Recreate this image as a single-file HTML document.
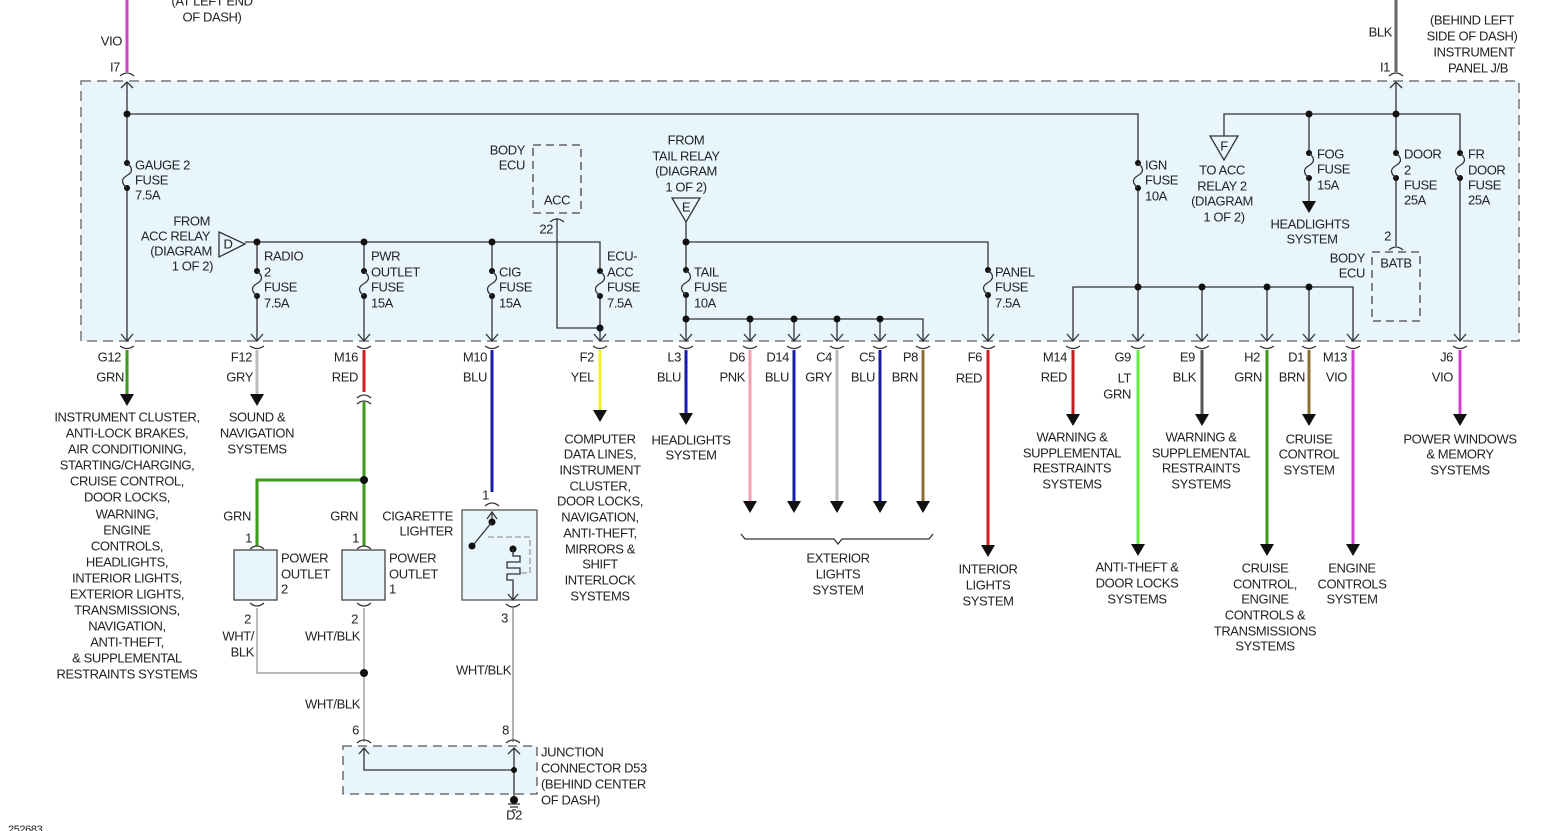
<!DOCTYPE html>
<html><head><meta charset="utf-8"><style>
html,body{margin:0;padding:0;background:#fff;}
svg{display:block;}
text{font-family:"Liberation Sans",sans-serif;font-size:13px;fill:#222;letter-spacing:-0.4px;dominant-baseline:central;}
.m{text-anchor:middle}.e{text-anchor:end}
.k{stroke:#333;stroke-width:1.3;fill:none}
.d{fill:#111}
</style></head><body>
<svg width="1554" height="831" viewBox="0 0 1554 831" xmlns="http://www.w3.org/2000/svg">
<!-- J/B box -->
<rect x="81" y="81" width="1438" height="260" fill="#e8f5fd" stroke="#777" stroke-width="1.5" stroke-dasharray="10,6"/>

<!-- top wires -->
<line x1="127" y1="0" x2="127" y2="72" stroke="#cc44cc" stroke-width="3"/>
<path class="k" d="M120 76 Q127 70 134 76"/>
<path class="k" d="M121 88 L127 82 L133 88"/>
<text class="e" x="122" y="41">VIO</text>
<text class="e" x="120" y="67">I7</text>
<text class="m" x="212" y="1">(AT LEFT END</text>
<text class="m" x="212" y="17">OF DASH)</text>

<line x1="1396" y1="0" x2="1396" y2="72" stroke="#666" stroke-width="3"/>
<path class="k" d="M1389 76 Q1396 70 1403 76"/>
<path class="k" d="M1390 88 L1396 82 L1402 88"/>
<text class="e" x="1392" y="32">BLK</text>
<text class="e" x="1390" y="67">I1</text>
<text class="m" x="1472" y="20">(BEHIND LEFT</text>
<text class="m" x="1472" y="36">SIDE OF DASH)</text>
<text class="m" x="1474" y="52">INSTRUMENT</text>
<text class="m" x="1478" y="68">PANEL J/B</text>

<!-- top bus -->
<path class="k" d="M127 82 V163 M127 188 V341 M127 114 H1138 V163 M1138 188 V341"/>
<circle class="d" cx="127" cy="114" r="3.5"/>
<!-- gauge fuse -->
<circle class="d" cx="127" cy="163" r="3"/><circle class="d" cx="127" cy="188" r="3"/>
<path class="k" d="M127 163 C133 168 133 172 127 175.5 C121 179 121 183 127 188"/>
<text x="135" y="165">GAUGE 2</text><text x="135" y="180">FUSE</text><text x="135" y="195">7.5A</text>

<!-- D bus -->
<path d="M219 232 L245 244 L219 257 Z" fill="none" stroke="#333" stroke-width="1.3"/>
<text class="m" x="228" y="244">D</text>
<text class="e" x="210" y="221">FROM</text><text class="e" x="210" y="236">ACC RELAY</text>
<text class="e" x="212" y="251">(DIAGRAM</text><text class="e" x="213" y="266">1 OF 2)</text>
<path class="k" d="M245 242 H600 V271 M600 296 V341 M257 242 V271 M257 296 V341 M364 242 V271 M364 296 V341 M492 242 V271 M492 296 V341"/>
<circle class="d" cx="257" cy="242" r="3.5"/><circle class="d" cx="364" cy="242" r="3.5"/><circle class="d" cx="492" cy="242" r="3.5"/>
<g>
<circle class="d" cx="257" cy="271" r="3"/><circle class="d" cx="257" cy="296" r="3"/>
<path class="k" d="M257 271 C263 276 263 280 257 283.5 C251 287 251 291 257 296"/>
<circle class="d" cx="364" cy="271" r="3"/><circle class="d" cx="364" cy="296" r="3"/>
<path class="k" d="M364 271 C370 276 370 280 364 283.5 C358 287 358 291 364 296"/>
<circle class="d" cx="492" cy="271" r="3"/><circle class="d" cx="492" cy="296" r="3"/>
<path class="k" d="M492 271 C498 276 498 280 492 283.5 C486 287 486 291 492 296"/>
<circle class="d" cx="600" cy="271" r="3"/><circle class="d" cx="600" cy="296" r="3"/>
<path class="k" d="M600 271 C606 276 606 280 600 283.5 C594 287 594 291 600 296"/>
</g>
<text x="264" y="256">RADIO</text><text x="264" y="272">2</text><text x="264" y="287">FUSE</text><text x="264" y="303">7.5A</text>
<text x="371" y="256">PWR</text><text x="371" y="272">OUTLET</text><text x="371" y="287">FUSE</text><text x="371" y="303">15A</text>
<text x="499" y="272">CIG</text><text x="499" y="287">FUSE</text><text x="499" y="303">15A</text>
<text x="607" y="256">ECU-</text><text x="607" y="272">ACC</text><text x="607" y="287">FUSE</text><text x="607" y="303">7.5A</text>

<!-- Body ECU ACC -->
<rect x="533" y="145" width="48" height="68" fill="#e8f5fd" stroke="#444" stroke-width="1.3" stroke-dasharray="8,5"/>
<text class="e" x="525" y="150">BODY</text><text class="e" x="525" y="165">ECU</text>
<text class="m" x="557" y="200">ACC</text>
<path class="k" d="M550 222 Q557 216 564 222"/>
<text class="e" x="553" y="229">22</text>
<path class="k" d="M557 218 V328 H600"/>
<circle class="d" cx="600" cy="328" r="3.5"/>

<!-- Tail relay -->
<text class="m" x="686" y="140">FROM</text><text class="m" x="686" y="156">TAIL RELAY</text>
<text class="m" x="686" y="171">(DIAGRAM</text><text class="m" x="686" y="187">1 OF 2)</text>
<path d="M672 198 L700 198 L686 222 Z" fill="none" stroke="#333" stroke-width="1.3"/>
<text class="m" x="686" y="207">E</text>
<path class="k" d="M686 222 V270 M686 295 V341 M686 242 H988 V270 M988 295 V341 M686 319 H923 V341 M750 319 V341 M794 319 V341 M837 319 V341 M880 319 V341"/>
<circle class="d" cx="686" cy="242" r="3.5"/><circle class="d" cx="686" cy="319" r="3.5"/>
<circle class="d" cx="750" cy="319" r="3.5"/><circle class="d" cx="794" cy="319" r="3.5"/><circle class="d" cx="837" cy="319" r="3.5"/><circle class="d" cx="880" cy="319" r="3.5"/>
<circle class="d" cx="686" cy="270" r="3"/><circle class="d" cx="686" cy="295" r="3"/>
<path class="k" d="M686 270 C692 275 692 279 686 282.5 C680 286 680 290 686 295"/>
<circle class="d" cx="988" cy="270" r="3"/><circle class="d" cx="988" cy="295" r="3"/>
<path class="k" d="M988 270 C994 275 994 279 988 282.5 C982 286 982 290 988 295"/>
<text x="694" y="272">TAIL</text><text x="694" y="287">FUSE</text><text x="694" y="303">10A</text>
<text x="995" y="272">PANEL</text><text x="995" y="287">FUSE</text><text x="995" y="303">7.5A</text>

<!-- IGN -->
<circle class="d" cx="1138" cy="163" r="3"/><circle class="d" cx="1138" cy="188" r="3"/>
<path class="k" d="M1138 163 C1144 168 1144 172 1138 175.5 C1132 179 1132 183 1138 188"/>
<text x="1145" y="165">IGN</text><text x="1145" y="180">FUSE</text><text x="1145" y="196">10A</text>
<path class="k" d="M1073 341 V287 H1353 V341 M1202 287 V341 M1267 287 V341 M1309 287 V341"/>
<circle class="d" cx="1138" cy="287" r="3.5"/><circle class="d" cx="1202" cy="287" r="3.5"/><circle class="d" cx="1267" cy="287" r="3.5"/><circle class="d" cx="1309" cy="287" r="3.5"/>

<!-- right bus -->
<path class="k" d="M1224 136 V114 H1460 V153 M1460 178 V341 M1309 114 V153 M1309 178 V202 M1396 82 V153 M1396 178 V246"/>
<circle class="d" cx="1309" cy="114" r="3.5"/><circle class="d" cx="1396" cy="114" r="3.5"/>
<path d="M1210 136 L1238 136 L1224 160 Z" fill="none" stroke="#333" stroke-width="1.3"/>
<text class="m" x="1224" y="146">F</text>
<text class="m" x="1222" y="170">TO ACC</text><text class="m" x="1222" y="186">RELAY 2</text>
<text class="m" x="1222" y="201">(DIAGRAM</text><text class="m" x="1224" y="217">1 OF 2)</text>
<circle class="d" cx="1309" cy="153" r="3"/><circle class="d" cx="1309" cy="178" r="3"/>
<path class="k" d="M1309 153 C1315 158 1315 162 1309 165.5 C1303 169 1303 173 1309 178"/>
<path d="M1302 201 L1316 201 L1309 213 Z" fill="#111"/>
<text x="1317" y="154">FOG</text><text x="1317" y="169">FUSE</text><text x="1317" y="185">15A</text>
<text class="m" x="1310" y="224">HEADLIGHTS</text><text class="m" x="1312" y="239">SYSTEM</text>
<circle class="d" cx="1396" cy="153" r="3"/><circle class="d" cx="1396" cy="178" r="3"/>
<path class="k" d="M1396 153 C1402 158 1402 162 1396 165.5 C1390 169 1390 173 1396 178"/>
<text x="1404" y="154">DOOR</text><text x="1404" y="170">2</text><text x="1404" y="185">FUSE</text><text x="1404" y="200">25A</text>
<circle class="d" cx="1460" cy="153" r="3"/><circle class="d" cx="1460" cy="178" r="3"/>
<path class="k" d="M1460 153 C1466 158 1466 162 1460 165.5 C1454 169 1454 173 1460 178"/>
<text x="1468" y="154">FR</text><text x="1468" y="170">DOOR</text><text x="1468" y="185">FUSE</text><text x="1468" y="200">25A</text>
<path class="k" d="M1389 250 Q1396 244 1403 250"/>
<text class="e" x="1391" y="236">2</text>
<rect x="1372" y="252" width="48" height="69" fill="#e8f5fd" stroke="#444" stroke-width="1.3" stroke-dasharray="8,5"/>
<text class="m" x="1396" y="263">BATB</text>
<text class="e" x="1365" y="258">BODY</text><text class="e" x="1365" y="273">ECU</text>

<!-- bottom connectors: chevrons + cups -->
<g class="k">
<path d="M121 334 L127 341 L133 334 M120 346 Q127 351 134 346"/>
<path d="M251 334 L257 341 L263 334 M250 346 Q257 351 264 346"/>
<path d="M358 334 L364 341 L370 334 M357 346 Q364 351 371 346"/>
<path d="M486 334 L492 341 L498 334 M485 346 Q492 351 499 346"/>
<path d="M594 334 L600 341 L606 334 M593 346 Q600 351 607 346"/>
<path d="M680 334 L686 341 L692 334 M679 346 Q686 351 693 346"/>
<path d="M744 334 L750 341 L756 334 M743 346 Q750 351 757 346"/>
<path d="M788 334 L794 341 L800 334 M787 346 Q794 351 801 346"/>
<path d="M831 334 L837 341 L843 334 M830 346 Q837 351 844 346"/>
<path d="M874 334 L880 341 L886 334 M873 346 Q880 351 887 346"/>
<path d="M917 334 L923 341 L929 334 M916 346 Q923 351 930 346"/>
<path d="M982 334 L988 341 L994 334 M981 346 Q988 351 995 346"/>
<path d="M1067 334 L1073 341 L1079 334 M1066 346 Q1073 351 1080 346"/>
<path d="M1132 334 L1138 341 L1144 334 M1131 346 Q1138 351 1145 346"/>
<path d="M1196 334 L1202 341 L1208 334 M1195 346 Q1202 351 1209 346"/>
<path d="M1261 334 L1267 341 L1273 334 M1260 346 Q1267 351 1274 346"/>
<path d="M1303 334 L1309 341 L1315 334 M1302 346 Q1309 351 1316 346"/>
<path d="M1347 334 L1353 341 L1359 334 M1346 346 Q1353 351 1360 346"/>
<path d="M1454 334 L1460 341 L1466 334 M1453 346 Q1460 351 1467 346"/>
</g>

<!-- colored wires -->
<g stroke-width="3" fill="none">
<line x1="127" y1="350" x2="127" y2="396" stroke="#3a9a1a"/>
<line x1="257" y1="350" x2="257" y2="396" stroke="#bbb"/>
<line x1="364" y1="350" x2="364" y2="392" stroke="#d02020"/>
<line x1="364" y1="402" x2="364" y2="546" stroke="#3a9a1a"/>
<path d="M364 480 H257 V546" stroke="#3a9a1a"/>
<line x1="492" y1="350" x2="492" y2="492" stroke="#1a1aa8"/>
<line x1="600" y1="350" x2="600" y2="412" stroke="#f0f020"/>
<line x1="686" y1="350" x2="686" y2="414" stroke="#1a1aa8"/>
<line x1="750" y1="350" x2="750" y2="502" stroke="#f0a0b0"/>
<line x1="794" y1="350" x2="794" y2="502" stroke="#1a1aa8"/>
<line x1="837" y1="350" x2="837" y2="502" stroke="#bbb"/>
<line x1="880" y1="350" x2="880" y2="502" stroke="#1a1aa8"/>
<line x1="923" y1="350" x2="923" y2="502" stroke="#8a7030"/>
<line x1="988" y1="350" x2="988" y2="546" stroke="#d02020"/>
<line x1="1073" y1="350" x2="1073" y2="416" stroke="#c02020"/>
<line x1="1138" y1="350" x2="1138" y2="545" stroke="#66ee44"/>
<line x1="1202" y1="350" x2="1202" y2="416" stroke="#555"/>
<line x1="1267" y1="350" x2="1267" y2="545" stroke="#3a9a1a"/>
<line x1="1309" y1="350" x2="1309" y2="416" stroke="#8a7030"/>
<line x1="1353" y1="350" x2="1353" y2="545" stroke="#d040d0"/>
<line x1="1460" y1="350" x2="1460" y2="416" stroke="#d040d0"/>
</g>
<g fill="#111">
<path d="M120 394 L134 394 L127 406 Z"/><path d="M250 394 L264 394 L257 406 Z"/>
<path d="M593 410 L607 410 L600 422 Z"/><path d="M679 413 L693 413 L686 425 Z"/>
<path d="M743 501 L757 501 L750 513 Z"/><path d="M787 501 L801 501 L794 513 Z"/><path d="M830 501 L844 501 L837 513 Z"/><path d="M873 501 L887 501 L880 513 Z"/><path d="M916 501 L930 501 L923 513 Z"/>
<path d="M981 545 L995 545 L988 557 Z"/>
<path d="M1066 414 L1080 414 L1073 426 Z"/><path d="M1131 544 L1145 544 L1138 556 Z"/><path d="M1195 414 L1209 414 L1202 426 Z"/>
<path d="M1260 544 L1274 544 L1267 556 Z"/><path d="M1302 414 L1316 414 L1309 426 Z"/><path d="M1346 544 L1360 544 L1353 556 Z"/><path d="M1453 414 L1467 414 L1460 426 Z"/>
</g>
<!-- inline connector on M16 -->
<path class="k" d="M357 398 Q364 392 371 398 M357 404 Q364 398 371 404"/>
<circle class="d" cx="364" cy="480" r="4"/>

<!-- pin labels -->
<text class="e" x="121" y="357">G12</text><text class="e" x="124" y="377">GRN</text>
<text class="e" x="252" y="357">F12</text><text class="e" x="253" y="377">GRY</text>
<text class="e" x="358" y="357">M16</text><text class="e" x="358" y="377">RED</text>
<text class="e" x="487" y="357">M10</text><text class="e" x="487" y="377">BLU</text>
<text class="e" x="594" y="357">F2</text><text class="e" x="594" y="377">YEL</text>
<text class="e" x="681" y="357">L3</text><text class="e" x="681" y="377">BLU</text>
<text class="e" x="745" y="357">D6</text><text class="e" x="745" y="377">PNK</text>
<text class="e" x="789" y="357">D14</text><text class="e" x="789" y="377">BLU</text>
<text class="e" x="832" y="357">C4</text><text class="e" x="832" y="377">GRY</text>
<text class="e" x="875" y="357">C5</text><text class="e" x="875" y="377">BLU</text>
<text class="e" x="918" y="357">P8</text><text class="e" x="918" y="377">BRN</text>
<text class="e" x="982" y="357">F6</text><text class="e" x="982" y="378">RED</text>
<text class="e" x="1067" y="357">M14</text><text class="e" x="1067" y="377">RED</text>
<text class="e" x="1131" y="357">G9</text><text class="e" x="1131" y="378">LT</text><text class="e" x="1131" y="394">GRN</text>
<text class="e" x="1195" y="357">E9</text><text class="e" x="1196" y="377">BLK</text>
<text class="e" x="1260" y="357">H2</text><text class="e" x="1262" y="377">GRN</text>
<text class="e" x="1304" y="357">D1</text><text class="e" x="1305" y="377">BRN</text>
<text class="e" x="1347" y="357">M13</text><text class="e" x="1347" y="377">VIO</text>
<text class="e" x="1453" y="357">J6</text><text class="e" x="1453" y="377">VIO</text>

<!-- destinations -->
<g class="m">
<text class="m" x="127" y="417">INSTRUMENT CLUSTER,</text>
<text class="m" x="127" y="433">ANTI-LOCK BRAKES,</text>
<text class="m" x="127" y="449">AIR CONDITIONING,</text>
<text class="m" x="127" y="465">STARTING/CHARGING,</text>
<text class="m" x="127" y="481">CRUISE CONTROL,</text>
<text class="m" x="127" y="497">DOOR LOCKS,</text>
<text class="m" x="127" y="514">WARNING,</text>
<text class="m" x="127" y="530">ENGINE</text>
<text class="m" x="127" y="546">CONTROLS,</text>
<text class="m" x="127" y="562">HEADLIGHTS,</text>
<text class="m" x="127" y="578">INTERIOR LIGHTS,</text>
<text class="m" x="127" y="594">EXTERIOR LIGHTS,</text>
<text class="m" x="127" y="610">TRANSMISSIONS,</text>
<text class="m" x="127" y="626">NAVIGATION,</text>
<text class="m" x="127" y="642">ANTI-THEFT,</text>
<text class="m" x="127" y="658">&amp; SUPPLEMENTAL</text>
<text class="m" x="127" y="674">RESTRAINTS SYSTEMS</text>
<text class="m" x="257" y="417">SOUND &amp;</text><text class="m" x="257" y="433">NAVIGATION</text><text class="m" x="257" y="449">SYSTEMS</text>
<text class="m" x="600" y="439">COMPUTER</text><text class="m" x="600" y="454">DATA LINES,</text><text class="m" x="600" y="470">INSTRUMENT</text><text class="m" x="600" y="486">CLUSTER,</text><text class="m" x="600" y="501">DOOR LOCKS,</text><text class="m" x="600" y="517">NAVIGATION,</text><text class="m" x="600" y="533">ANTI-THEFT,</text><text class="m" x="600" y="549">MIRRORS &amp;</text><text class="m" x="600" y="564">SHIFT</text><text class="m" x="600" y="580">INTERLOCK</text><text class="m" x="600" y="596">SYSTEMS</text>
<text class="m" x="691" y="440">HEADLIGHTS</text><text class="m" x="691" y="455">SYSTEM</text>
<text class="m" x="838" y="558">EXTERIOR</text><text class="m" x="838" y="574">LIGHTS</text><text class="m" x="838" y="590">SYSTEM</text>
<text class="m" x="988" y="569">INTERIOR</text><text class="m" x="988" y="585">LIGHTS</text><text class="m" x="988" y="601">SYSTEM</text>
<text class="m" x="1072" y="437">WARNING &amp;</text><text class="m" x="1072" y="453">SUPPLEMENTAL</text><text class="m" x="1072" y="468">RESTRAINTS</text><text class="m" x="1072" y="484">SYSTEMS</text>
<text class="m" x="1201" y="437">WARNING &amp;</text><text class="m" x="1201" y="453">SUPPLEMENTAL</text><text class="m" x="1201" y="468">RESTRAINTS</text><text class="m" x="1201" y="484">SYSTEMS</text>
<text class="m" x="1309" y="439">CRUISE</text><text class="m" x="1309" y="454">CONTROL</text><text class="m" x="1309" y="470">SYSTEM</text>
<text class="m" x="1460" y="439">POWER WINDOWS</text><text class="m" x="1460" y="454">&amp; MEMORY</text><text class="m" x="1460" y="470">SYSTEMS</text>
<text class="m" x="1137" y="567">ANTI-THEFT &amp;</text><text class="m" x="1137" y="583">DOOR LOCKS</text><text class="m" x="1137" y="599">SYSTEMS</text>
<text class="m" x="1265" y="568">CRUISE</text><text class="m" x="1265" y="584">CONTROL,</text><text class="m" x="1265" y="599">ENGINE</text><text class="m" x="1265" y="615">CONTROLS &amp;</text><text class="m" x="1265" y="631">TRANSMISSIONS</text><text class="m" x="1265" y="646">SYSTEMS</text>
<text class="m" x="1352" y="568">ENGINE</text><text class="m" x="1352" y="584">CONTROLS</text><text class="m" x="1352" y="599">SYSTEM</text>
</g>
<path class="k" d="M741 534 L745 539 H834 L838 544 L842 539 H929 L933 534" stroke-width="1"/>

<!-- power outlets -->
<text class="e" x="251" y="516">GRN</text><text class="e" x="358" y="516">GRN</text>
<text class="e" x="252" y="538">1</text><text class="e" x="359" y="538">1</text>
<path class="k" d="M250 549 Q257 543 264 549 M357 549 Q364 543 371 549"/>
<rect x="234" y="550" width="43" height="50" fill="#e8f5fd" stroke="#444" stroke-width="1.3"/>
<rect x="342" y="550" width="43" height="50" fill="#e8f5fd" stroke="#444" stroke-width="1.3"/>
<text x="281" y="558">POWER</text><text x="281" y="574">OUTLET</text><text x="281" y="589">2</text>
<text x="389" y="558">POWER</text><text x="389" y="574">OUTLET</text><text x="389" y="589">1</text>
<path class="k" d="M250 603 Q257 609 264 603 M357 603 Q364 609 371 603"/>
<text class="e" x="251" y="619">2</text><text class="e" x="358" y="619">2</text>
<text class="e" x="254" y="636">WHT/</text><text class="e" x="254" y="652">BLK</text>
<text class="e" x="360" y="636">WHT/BLK</text>
<path d="M257 608 V673 H364 M364 608 V742" stroke="#bbb" stroke-width="2" fill="none"/>
<circle class="d" cx="364" cy="673" r="4"/>
<text class="e" x="360" y="704">WHT/BLK</text>

<!-- cigarette lighter -->
<text class="e" x="489" y="495">1</text>
<path class="k" d="M485 506 Q492 500 499 506"/>
<text class="e" x="453" y="516">CIGARETTE</text><text class="e" x="453" y="531">LIGHTER</text>
<rect x="462" y="510" width="75" height="90" fill="#e8f5fd" stroke="#555" stroke-width="1.3"/>
<path class="k" d="M487 519 L492 512 L497 519 M492 512 V522"/>
<circle class="d" cx="492" cy="522" r="3.5"/><circle class="d" cx="472" cy="546" r="3.5"/>
<path class="k" d="M492 522 L474 544"/>
<path d="M488 537 H530 V573 H521" stroke="#888" stroke-width="1.1" fill="none" stroke-dasharray="6,3"/>
<circle class="d" cx="513" cy="549" r="3.5"/>
<path class="k" d="M513 549 V556 H520 V562 H507 V568 H520 V574 H507 V580 H513 V600 M508 594 L513 600 L518 594"/>
<path class="k" d="M506 604 Q513 610 520 604"/>
<text class="e" x="508" y="618">3</text>
<line x1="513" y1="608" x2="513" y2="742" stroke="#999" stroke-width="1.5"/>
<text class="e" x="511" y="670">WHT/BLK</text>

<!-- junction connector -->
<text class="e" x="359" y="730">6</text><text class="e" x="509" y="730">8</text>
<path class="k" d="M357 743 Q364 737 371 743 M506 743 Q513 737 520 743"/>
<rect x="343" y="746" width="194" height="48" fill="#e8f5fd" stroke="#555" stroke-width="1.3" stroke-dasharray="9,6"/>
<path class="k" d="M359 754 L364 748 L369 754 M364 748 V770 H514 M508 754 L514 748 L520 754 M514 748 V800"/>
<circle class="d" cx="514" cy="770" r="3"/><circle class="d" cx="514" cy="800" r="4"/>
<path class="k" d="M508 804 H520 M510 807 H518 M512 810 H516"/>
<text class="m" x="514" y="815">D2</text>
<text x="541" y="752">JUNCTION</text><text x="541" y="768">CONNECTOR D53</text><text x="541" y="784">(BEHIND CENTER</text><text x="541" y="800">OF DASH)</text>
<text x="8" y="830" style="font-size:11px">252683</text>
</svg>
</body></html>
